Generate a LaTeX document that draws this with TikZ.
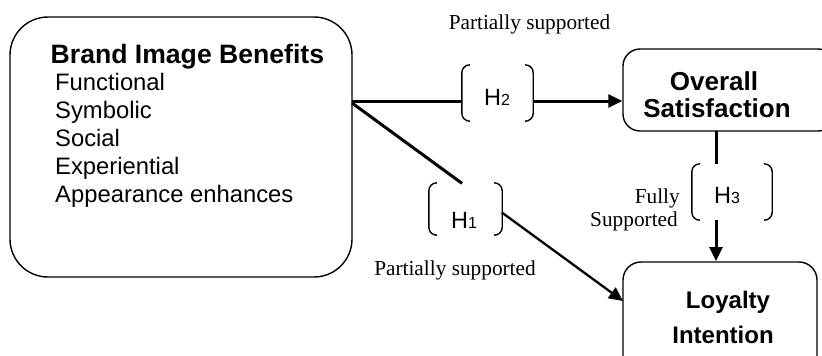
\documentclass[tikz,border=0pt]{standalone}
\usepackage{fontspec}
\setmainfont{Liberation Serif}
\setsansfont{Liberation Sans}
\usetikzlibrary{arrows.meta,calc}
\newcommand\hsub[1]{{\fontsize{16bp}{16bp}\selectfont #1}}
\newcommand\hypbr[1]{%
  \draw[brk] (#1.north west) ++(8,0) -- ++(-8,0) -- (#1.south west) -- ++(8,0);
  \draw[brk] (#1.north east) ++(-8,0) -- ++(8,0) -- (#1.south east) -- ++(-8,0);}
\begin{document}
\begin{tikzpicture}[x=1bp,y=-1bp,
  box/.style={draw, line width=1.4bp, inner sep=0pt},
  conn/.style={line width=3bp},
  thinconn/.style={line width=2.3bp},
  tip/.style={-{Triangle[length=14bp,width=13bp]}},
  brk/.style={line width=1.4bp, rounded corners=8bp},
  hyp/.style={inner sep=0pt, minimum width=#1},
  hyp/.default=72bp,
  title/.style={inner sep=0pt, font=\sffamily\bfseries\fontsize{26.6bp}{28bp}\selectfont},
  item/.style={inner sep=0pt, anchor=base west, font=\sffamily\fontsize{23.8bp}{28bp}\selectfont},
  boxtxt/.style={inner sep=0pt, anchor=base, font=\sffamily\bfseries\fontsize{26bp}{28bp}\selectfont},
  hlab/.style={inner sep=0pt, anchor=base, font=\sffamily\fontsize{23.5bp}{26bp}\selectfont},
  note/.style={inner sep=0pt, font=\rmfamily\fontsize{21.3bp}{24bp}\selectfont}
]
\useasboundingbox (0,0) rectangle (822,355);
\clip (0,0) rectangle (822,355);

% boxes
\node[box, rounded corners=38bp, minimum width=342bp, minimum height=260bp] (bib) at (181,147) {};
\node[box, rounded corners=17bp, minimum width=212bp, minimum height=82bp] (os) at (729,90) {};
\node[box, rounded corners=18bp, minimum width=194bp, minimum height=118bp] (li) at (720,321) {};

% box texts
\node[title, anchor=base west] (tt) at (50.5,63) {Brand Image Benefits};
\foreach \t [count=\i] in {Functional,Symbolic,Social,Experiential,Appearance enhances}
  \node[item] (it\i) at (55,62+28*\i) {\t};
\node[boxtxt] (os1) at (714,90) {Overall};
\node[boxtxt] (os2) at (717,117) {Satisfaction};
\node[boxtxt, font=\sffamily\bfseries\fontsize{24bp}{28bp}\selectfont] (li1) at (728,308) {Loyalty};
\node[boxtxt, font=\sffamily\bfseries\fontsize{24bp}{28bp}\selectfont] (li2) at (723,343) {Intention};

% hypothesis brackets
\node[hyp=71bp, minimum height=56bp] (h2) at (497.5,93) {};
\node[hyp=73bp, minimum height=52bp] (h1) at (465.5,209) {};
\node[hyp=80bp, minimum height=56bp] (h3) at (732,192) {};
\hypbr{h2}
\hypbr{h1}
\hypbr{h3}
\node[hlab] (h2t) at (497,105) {H\hsub{2}};
\node[hlab] (h1t) at (464,228) {H\hsub{1}};
\node[hlab] (h3t) at (727,203) {H\hsub{3}};

% connection points
\coordinate (s2) at (352,101);
\coordinate (d0) at (352,103);
\coordinate (d1) at (623,301);
\coordinate (v0) at (716,131);
\coordinate (v1) at (716,261);

% connectors
\draw[conn] (s2) -- (s2 -| h2.west);
\draw[conn, tip] (s2 -| h2.east) -- (s2 -| os.west);
\draw[conn] (d0) -- ($(d0)!0.406!(d1)$);
\draw[thinconn, tip] ($(d0)!0.553!(d1)$) -- (d1);
\draw[conn] (v0) -- (v0 |- h3.north);
\draw[conn, tip] (v0 |- h3.south) -- (v1);

% notes
\node[note, anchor=base] (n2) at (529.5,29) {Partially supported};
\node[note, anchor=base] (n1) at (455,275) {Partially supported};
\node[note, anchor=base east] (n3a) at (680,203) {Fully};
\node[note, anchor=base east] (n3b) at (678,226) {Supported};
\end{tikzpicture}
\end{document}
